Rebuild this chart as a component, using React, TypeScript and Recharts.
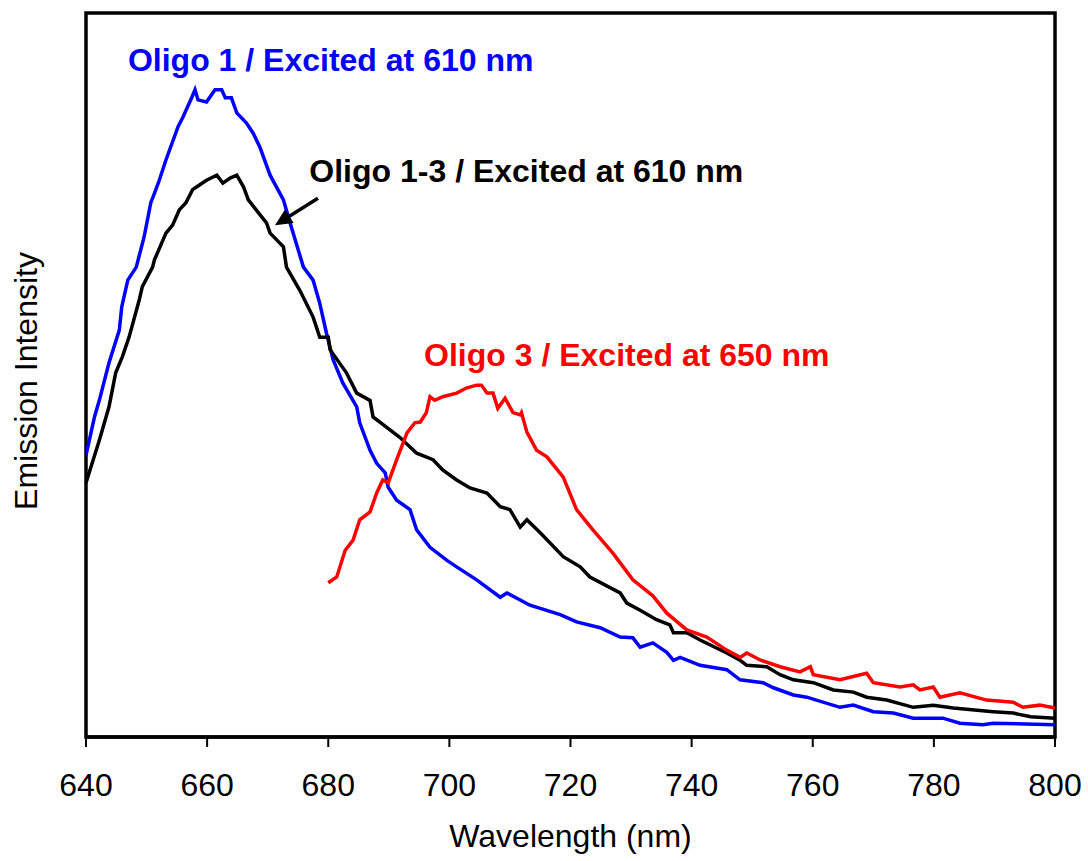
import React from 'react';
import { LineChart, Line, XAxis, YAxis, ReferenceArea, ReferenceDot, ReferenceLine } from 'recharts';

// Emission spectra: [wavelength (nm), intensity (a.u., 0-100)]
const oligo1Points: [number, number][] = [
  [640, 38.9], [641.4, 44.2], [642.2, 46.5], [643.8, 51.7], [645.5, 56.2], [645.9, 59.4], [646.9, 63.1],
  [648.3, 64.9], [649.6, 69.1], [650.7, 73.8], [651.3, 75.1], [652.1, 76.9], [653.2, 79.7], [655.2, 84.3],
  [656, 85.6], [657.5, 88.4], [658, 89.4], [658.5, 88.0], [659.9, 87.7], [661.3, 89.4], [662.4, 89.4],
  [663, 88.3], [664, 88.3], [664.9, 86.2], [666.5, 84.8], [667.6, 83.4], [668.7, 81.5], [670.4, 77.6],
  [672.6, 74.2], [673.7, 71.0], [675.9, 64.9], [677.5, 63.1], [678.6, 59.9], [679.7, 55.8], [680.8, 52.1],
  [682.4, 48.9], [684.7, 45.6], [685.2, 43.4], [686.9, 39.6], [688, 37.8], [689.4, 36.5], [689.9, 34.5],
  [691.3, 32.7], [693.5, 31.4], [694.6, 28.6], [696.8, 26.2], [699.6, 24.4], [701.2, 23.5], [704.5, 21.7],
  [708.4, 19.3], [709.5, 19.9], [713.3, 18.2], [718.3, 16.9], [721, 15.9], [724.9, 15.1], [728.2, 13.8],
  [730.3, 13.7], [731.5, 12.4], [733.6, 13.0], [735.9, 11.7], [737, 10.6], [738.1, 11.0], [741.4, 9.9],
  [745.8, 9.3], [748, 7.9], [751.8, 7.5], [753.5, 6.8], [756.8, 5.8], [759, 5.5], [764.5, 4.1], [766.7, 4.4],
  [770, 3.5], [773.3, 3.3], [776.6, 2.6], [781.5, 2.6], [784.3, 1.9], [788.1, 1.7], [789.8, 1.9], [800, 1.7],
];

const oligo13Points: [number, number][] = [
  [640, 35.1], [640.3, 35.9], [642.2, 41.0], [643.8, 45.6], [644.9, 50.3], [646, 52.5], [647.1, 55.2],
  [648.8, 60.4], [649.3, 62.2], [651, 64.9], [651.3, 65.9], [653.2, 69.6], [654.3, 70.7], [655.4, 72.8],
  [656.5, 73.8], [657.6, 75.6], [658.3, 76.0], [659.9, 76.9], [661.6, 77.6], [662.6, 76.5], [663.8, 77.2],
  [664.9, 77.6], [666, 76.0], [666.8, 74.2], [669.8, 71.0], [670.4, 69.6], [672.6, 67.7], [673.1, 64.9],
  [675.3, 61.7], [677.5, 58.0], [678.6, 55.2], [680, 55.2], [680.3, 53.5], [683, 50.3], [684.7, 47.5],
  [686.9, 46.5], [687.4, 44.2], [689.6, 42.8], [691.8, 41.4], [694.6, 39.2], [697.3, 38.3], [698.9, 36.9],
  [701.2, 35.5], [703.4, 34.4], [706.2, 33.7], [708.4, 31.8], [710, 31.4], [711.7, 29.0], [712.8, 30.0],
  [715, 28.2], [718.8, 24.9], [721.6, 23.5], [723.2, 22.1], [728.2, 19.9], [729.3, 18.5], [731.5, 17.5],
  [734.2, 16.2], [736.4, 15.5], [737, 14.4], [739.2, 14.4], [741.4, 13.4], [745.8, 11.6], [748, 10.6],
  [749.1, 9.9], [752.4, 9.7], [754.6, 8.6], [756.8, 7.9], [760.1, 7.5], [763.4, 6.5], [766.7, 6.2],
  [768.9, 5.5], [772.2, 5.1], [776.6, 4.1], [779.9, 4.4], [783.2, 4.0], [789.8, 3.5], [793.1, 3.3],
  [796, 2.8], [800, 2.6],
];

const oligo3Points: [number, number][] = [
  [680, 21.3], [681.4, 22.1], [682.8, 25.8], [684.1, 27.2], [685.2, 30.0], [686.9, 31.1], [688, 33.7],
  [689, 35.5], [689.9, 35.1], [691.3, 38.3], [693, 42.0], [694.3, 43.4], [695.2, 43.5], [696.2, 44.8],
  [696.8, 47.0], [697.6, 46.5], [698.9, 47.0], [701.2, 47.5], [702.8, 48.2], [704.5, 48.6], [705.3, 48.6],
  [706.2, 47.5], [707.2, 47.5], [708, 45.4], [709.2, 46.8], [710.5, 44.8], [711.7, 44.5], [711.9, 44.8],
  [712.8, 42.1], [714.4, 39.6], [716.1, 38.7], [718.8, 35.9], [721, 31.4], [723.7, 28.6], [727, 25.4],
  [728.7, 23.5], [730.3, 21.7], [733.6, 19.5], [735.9, 17.1], [739.2, 14.8], [742.5, 13.8], [745.8, 12.0],
  [748, 11.0], [749.1, 11.6], [751.4, 10.6], [754.6, 9.7], [757.9, 9.0], [759.6, 9.7], [760.1, 8.6],
  [764.5, 7.9], [768.9, 8.8], [770, 7.5], [774.4, 6.9], [776.6, 7.2], [777.7, 6.5], [779.9, 6.9],
  [781, 5.5], [784.3, 6.1], [788.7, 5.1], [793.1, 4.8], [794.7, 4.1], [797.5, 4.4], [800, 4.0],
];

const xTicks = [640, 660, 680, 700, 720, 740, 760, 780, 800];
const xDomain: [number, number] = [640, 800];
const yDomain: [number, number] = [0, 100];

const annotations = [
  { text: 'Oligo 1 / Excited at 610 nm', x: 680.4, y: 93.6, color: '#0000FF' },
  { text: 'Oligo 1-3 / Excited at 610 nm', x: 712.7, y: 78.2, color: '#000000' },
  { text: 'Oligo 3 / Excited at 650 nm', x: 729.3, y: 52.8, color: '#FF0000' },
];
const arrowFrom = { x: 678.3, y: 74.4 };
const arrowTo = { x: 671.2, y: 70.7 };

const toRows = (pts: [number, number][]) => pts.map(([x, y]) => ({ x, y }));

const FONT = 'Arial, "Liberation Sans", sans-serif';

const ArrowShape = (p: any) => {
  const { x1, y1, x2, y2 } = p;
  const dx = x2 - x1;
  const dy = y2 - y1;
  const len = Math.sqrt(dx * dx + dy * dy) || 1;
  const ux = dx / len;
  const uy = dy / len;
  const headLen = 17;
  const headHalf = 8;
  const bx = x2 - ux * headLen;
  const by = y2 - uy * headLen;
  const px = -uy;
  const py = ux;
  return (
    <g>
      <line x1={x1} y1={y1} x2={bx} y2={by} stroke="#000" strokeWidth={3.5} />
      <polygon
        points={`${x2},${y2} ${bx + px * headHalf},${by + py * headHalf} ${bx - px * headHalf},${by - py * headHalf}`}
        fill="#000"
      />
    </g>
  );
};

export default function App() {
  return (
    <div style={{ position: 'absolute', left: 0, top: 0, background: '#fff' }}>
      <LineChart width={1088} height={861} margin={{ top: 13, right: 33, bottom: 0, left: 0 }}>
        <XAxis
          dataKey="x"
          type="number"
          domain={xDomain}
          ticks={xTicks}
          allowDataOverflow
          height={124}
          tickSize={10}
          tickMargin={26}
          tickLine={{ stroke: '#000', strokeWidth: 2 }}
          axisLine={{ stroke: '#000', strokeWidth: 3.5 }}
          tick={{ fill: '#000', fontSize: 32, fontFamily: FONT }}
          label={{ value: 'Wavelength (nm)', position: 'insideBottom', offset: 14, fill: '#000', fontSize: 32, fontFamily: FONT }}
        />
        <YAxis
          type="number"
          domain={yDomain}
          width={86}
          tick={false}
          tickLine={false}
          axisLine={false}
          label={{
            content: (props: any) => {
              const vb = props.viewBox || { x: 0, y: 13, width: 86, height: 724 };
              const cx = vb.x + 37;
              const cy = vb.y + vb.height / 2 + 6;
              return (
                <text
                  x={cx}
                  y={cy}
                  transform={`rotate(-90, ${cx}, ${cy})`}
                  textAnchor="middle"
                  fill="#000"
                  fontSize={32}
                  fontFamily={FONT}
                >
                  Emission Intensity
                </text>
              );
            },
          }}
        />
        <ReferenceArea x1={xDomain[0]} x2={xDomain[1]} y1={yDomain[0]} y2={yDomain[1]} fill="none" stroke="#000" strokeWidth={3.5} />
        <Line data={toRows(oligo1Points)} dataKey="y" stroke="#0000FF" strokeWidth={3.5} dot={false} isAnimationActive={false} />
        <Line data={toRows(oligo13Points)} dataKey="y" stroke="#000000" strokeWidth={3.5} dot={false} isAnimationActive={false} />
        <Line data={toRows(oligo3Points)} dataKey="y" stroke="#FF0000" strokeWidth={3.5} dot={false} isAnimationActive={false} />
        <ReferenceLine segment={[arrowFrom, arrowTo]} shape={ArrowShape} />
        {annotations.map((a) => (
          <ReferenceDot
            key={a.text}
            x={a.x}
            y={a.y}
            r={0}
            fill="none"
            stroke="none"
            label={{
              content: (props: any) => {
                const vb = props.viewBox || { x: 0, y: 0, width: 0, height: 0 };
                const cx = vb.x + vb.width / 2;
                const cy = vb.y + vb.height / 2;
                return (
                  <text x={cx} y={cy} dy="0.355em" textAnchor="middle" fill={a.color} fontSize={32} fontWeight="bold" fontFamily={FONT}>
                    {a.text}
                  </text>
                );
              },
            }}
          />
        ))}
      </LineChart>
    </div>
  );
}
